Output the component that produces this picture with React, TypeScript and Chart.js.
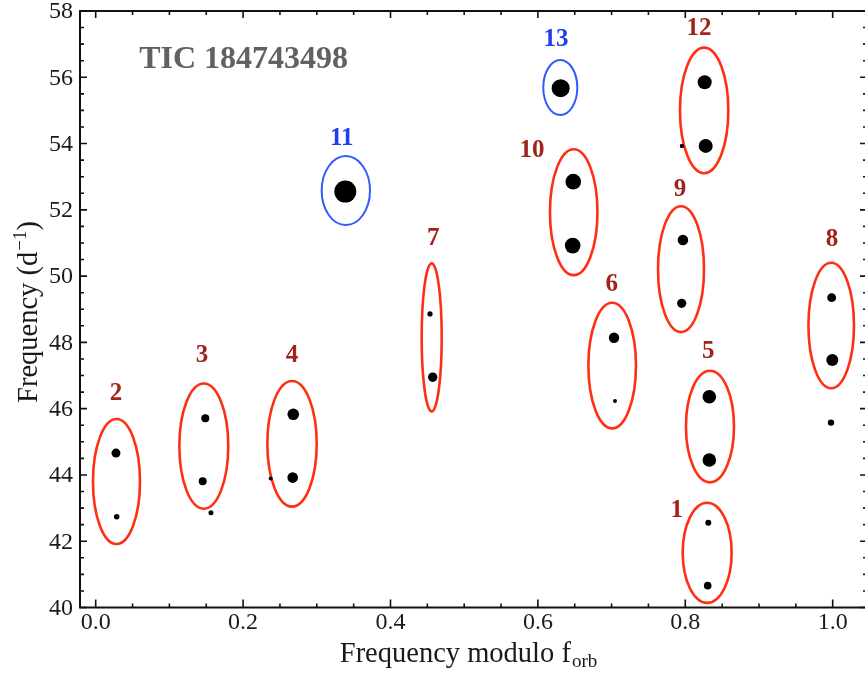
import { useEffect, useRef } from 'react';
import { Chart, registerables } from 'chart.js';

Chart.register(...registerables);

// ---- data: observed frequencies ----
const freqModOrb = [
  0.0275, 0.0285, 0.1487, 0.1452, 0.1564, 0.2681, 0.2673, 0.2374, 0.3387, 0.4536,
  0.4573, 0.6309, 0.648, 0.6472, 0.7033, 0.7046, 0.7968, 0.7951, 0.8263, 0.8277,
  0.7955, 0.8326, 0.8326, 0.8312, 0.8304, 0.9986, 0.9995, 0.9977,
];
const frequency = [
  44.66, 42.74, 45.71, 43.81, 42.86, 45.83, 43.92, 43.89, 52.55, 48.86,
  46.95, 55.67, 52.85, 50.92, 48.14, 46.23, 51.09, 49.18, 55.85, 53.93,
  53.93, 46.36, 44.45, 42.56, 40.66, 49.35, 47.47, 45.58,
];
const amplitudeSize = [
  4.5, 2.8, 4, 4, 2.5, 5.8, 5.3, 2, 11, 2.6,
  4.7, 9, 7.8, 7.8, 5.2, 2, 5.3, 4.6, 7, 7,
  2.2, 6.8, 6.8, 3, 3.8, 4.4, 6, 3.2,
];

// ---- data: groups (ellipses) ----
const groupNames = ['1', '2', '3', '4', '5', '6', '7', '8', '9', '10', '11', '12', '13'];
const groupKind = ['pair', 'pair', 'pair', 'pair', 'pair', 'pair', 'pair', 'pair', 'pair', 'pair', 'single', 'pair', 'single'];
const groupCenterX = [0.8297, 0.0282, 0.1467, 0.2664, 0.8335, 0.7008, 0.4559, 0.998, 0.7942, 0.6486, 0.3394, 0.8256, 0.6304];
const groupCenterY = [41.65, 43.8, 44.87, 44.94, 45.46, 47.3, 48.15, 48.51, 50.21, 51.93, 52.58, 55.0, 55.69];
const groupHalfWidth = [0.0332, 0.0319, 0.0332, 0.0335, 0.0326, 0.0323, 0.0136, 0.0309, 0.0312, 0.0322, 0.0328, 0.0328, 0.0231];
const groupHalfHeight = [1.51, 1.886, 1.89, 1.895, 1.684, 1.895, 2.233, 1.895, 1.9, 1.9, 1.041, 1.895, 0.83];
const groupLabelX = [0.7883, 0.0275, 0.1442, 0.2664, 0.8312, 0.7001, 0.4581, 0.999, 0.7928, 0.5919, 0.3338, 0.8186, 0.6245];
const groupLabelY = [42.94, 46.46, 47.6, 47.6, 47.72, 49.76, 51.14, 51.09, 52.6, 53.78, 54.16, 57.46, 57.13];

// ---- axes ----
const xTickValues = [0, 0.2, 0.4, 0.6, 0.8, 1.0];
const xTickLabels = ['0.0', '0.2', '0.4', '0.6', '0.8', '1.0'];
const yTickValues = [40, 42, 44, 46, 48, 50, 52, 54, 56, 58];
const yTickLabels = ['40', '42', '44', '46', '48', '50', '52', '54', '56', '58'];
const xMin = -0.0213;
const xMax = 1.0452;
const yMin = 40;
const yMax = 58;
const titleText = 'TIC 184743498';
const titleX = 0.059;
const titleY = 56.27;

const SERIF = "'Liberation Serif', 'Times New Roman', serif";

const decorPlugin = {
  id: 'decor',
  beforeDatasetsDraw(chart: any) {
    const { ctx, scales } = chart;
    const xs = scales.x;
    const ys = scales.y;
    ctx.save();
    for (let i = 0; i < groupNames.length; i++) {
      const cx = xs.getPixelForValue(groupCenterX[i]);
      const cy = ys.getPixelForValue(groupCenterY[i]);
      const rx = Math.abs(xs.getPixelForValue(groupCenterX[i] + groupHalfWidth[i]) - cx);
      const ry = Math.abs(ys.getPixelForValue(groupCenterY[i] + groupHalfHeight[i]) - cy);
      const single = groupKind[i] === 'single';
      ctx.beginPath();
      ctx.ellipse(cx, cy, rx, ry, 0, 0, Math.PI * 2);
      ctx.strokeStyle = single ? '#2f5bff' : '#ff2f12';
      ctx.lineWidth = single ? 2 : 2.6;
      ctx.stroke();
      ctx.font = `bold 25px ${SERIF}`;
      ctx.fillStyle = single ? '#1f3df2' : '#a1231c';
      ctx.textAlign = 'center';
      ctx.textBaseline = 'middle';
      ctx.fillText(groupNames[i], xs.getPixelForValue(groupLabelX[i]), ys.getPixelForValue(groupLabelY[i]));
    }
    // title
    ctx.font = `bold 32px ${SERIF}`;
    ctx.fillStyle = '#616161';
    ctx.textAlign = 'left';
    ctx.textBaseline = 'alphabetic';
    ctx.fillText(titleText, xs.getPixelForValue(titleX), ys.getPixelForValue(titleY));
    ctx.restore();
  },
  afterDraw(chart: any) {
    const { ctx, chartArea, scales } = chart;
    const { left, right, top, bottom } = chartArea;
    const xs = scales.x;
    const ys = scales.y;
    ctx.save();
    ctx.strokeStyle = '#111';
    ctx.lineWidth = 2;
    ctx.strokeRect(left, top, right - left, bottom - top);
    ctx.lineWidth = 1.6;
    ctx.beginPath();
    // x ticks (minor every 0.05)
    for (let k = 0; k <= 20; k++) {
      const v = k * 0.05;
      const px = xs.getPixelForValue(v);
      const major = k % 4 === 0;
      const lb = major ? 8 : 4;
      const lt = major ? 7 : 4;
      ctx.moveTo(px, bottom);
      ctx.lineTo(px, bottom - lb);
      ctx.moveTo(px, top);
      ctx.lineTo(px, top + lt);
    }
    // y ticks (minor every 0.5)
    for (let k = 0; k <= 36; k++) {
      const v = yMin + k * 0.5;
      const py = ys.getPixelForValue(v);
      const major = k % 4 === 0;
      const ll = major ? 7 : 4;
      const lr = major ? 6 : 3;
      ctx.moveTo(left, py);
      ctx.lineTo(left + ll, py);
      ctx.moveTo(right, py);
      ctx.lineTo(right - lr, py);
    }
    ctx.stroke();

    // tick labels
    ctx.fillStyle = '#1a1a1a';
    ctx.font = `24px ${SERIF}`;
    ctx.textAlign = 'center';
    ctx.textBaseline = 'middle';
    xTickValues.forEach((v, i) => {
      ctx.fillText(xTickLabels[i], xs.getPixelForValue(v), 623);
    });
    ctx.textAlign = 'right';
    yTickValues.forEach((v, i) => {
      ctx.fillText(yTickLabels[i], 73, ys.getPixelForValue(v) + 1);
    });

    // x axis title with subscript
    ctx.textBaseline = 'alphabetic';
    ctx.textAlign = 'left';
    const main = 'Frequency modulo f';
    const sub = 'orb';
    ctx.font = `28.5px ${SERIF}`;
    const w1 = ctx.measureText(main).width;
    ctx.font = `19px ${SERIF}`;
    const w2 = ctx.measureText(sub).width;
    const xStart = 468 - (w1 + w2) / 2;
    const base = 662;
    ctx.font = `28.5px ${SERIF}`;
    ctx.fillText(main, xStart, base);
    ctx.font = `19px ${SERIF}`;
    ctx.fillText(sub, xStart + w1 + 1, base + 5);

    // y axis title with superscript
    ctx.save();
    ctx.translate(37, 312);
    ctx.rotate(-Math.PI / 2);
    const a = 'Frequency (d';
    const sup = '\u22121';
    const c = ')';
    ctx.font = `28.5px ${SERIF}`;
    const wa = ctx.measureText(a).width;
    const wc = ctx.measureText(c).width;
    ctx.font = `19px ${SERIF}`;
    const ws = ctx.measureText(sup).width;
    const total = wa + ws + wc + 1;
    const x0 = -total / 2;
    ctx.font = `28.5px ${SERIF}`;
    ctx.fillText(a, x0, 0);
    ctx.font = `19px ${SERIF}`;
    ctx.fillText(sup, x0 + wa + 1, -11);
    ctx.font = `28.5px ${SERIF}`;
    ctx.fillText(c, x0 + wa + ws + 1, 0);
    ctx.restore();

    ctx.restore();
  },
};

export default function App() {
  const ref = useRef<HTMLCanvasElement | null>(null);
  useEffect(() => {
    if (!ref.current) return;
    const points = freqModOrb.map((x, i) => ({ x, y: frequency[i] }));
    const chart = new Chart(ref.current, {
      type: 'scatter',
      data: {
        datasets: [
          {
            data: points,
            pointRadius: amplitudeSize,
            pointHoverRadius: amplitudeSize,
            backgroundColor: '#000',
            borderColor: '#000',
            borderWidth: 0,
            pointStyle: 'circle',
            clip: false,
          },
        ],
      },
      options: {
        responsive: false,
        animation: false,
        devicePixelRatio: 1,
        layout: { autoPadding: false, padding: { left: 80, right: 2, top: 11, bottom: 66.5 } },
        plugins: { legend: { display: false }, tooltip: { enabled: false }, title: { display: false } },
        scales: {
          x: { type: 'linear', min: xMin, max: xMax, display: false },
          y: { type: 'linear', min: yMin, max: yMax, display: false },
        },
      },
      plugins: [decorPlugin],
    });
    return () => chart.destroy();
  }, []);
  return (
    <div
      style={{
        position: 'fixed',
        left: 0,
        top: 0,
        width: 865,
        height: 674,
        overflow: 'hidden',
        background: '#fff',
      }}
    >
      <canvas ref={ref} width={868} height={674} style={{ width: 868, height: 674, display: 'block' }} />
    </div>
  );
}
